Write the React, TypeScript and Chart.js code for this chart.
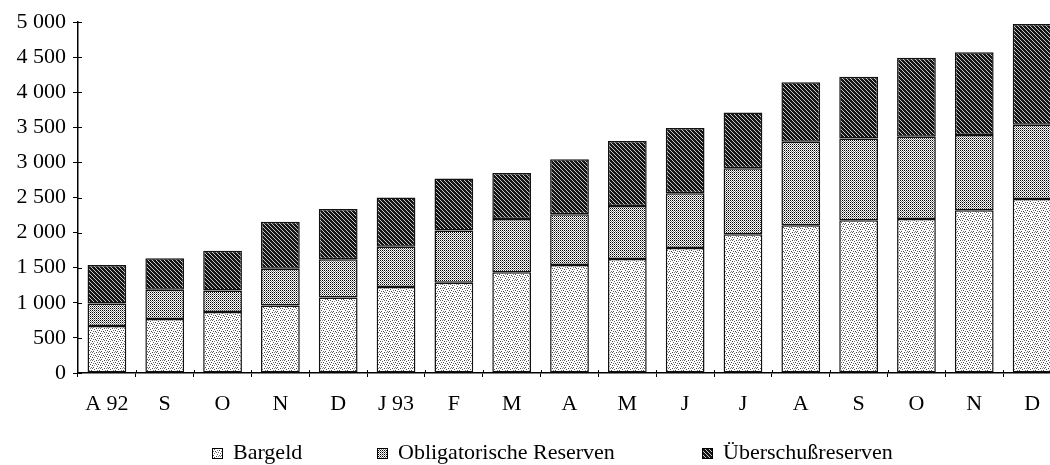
import React, { useEffect, useRef } from "react";
import { Chart, registerables } from "chart.js";

Chart.register(...registerables);

const categories = ["A 92", "S", "O", "N", "D", "J 93", "F", "M", "A", "M", "J", "J", "A", "S", "O", "N", "D"];
const bargeld = [670, 770, 870, 960, 1075, 1225, 1285, 1435, 1540, 1625, 1780, 1975, 2105, 2175, 2195, 2320, 2480];
const obligatorisch = [320, 415, 305, 525, 545, 575, 745, 760, 720, 755, 780, 940, 1190, 1165, 1170, 1070, 1055];
const ueberschuss = [550, 450, 565, 670, 715, 700, 740, 655, 785, 925, 930, 795, 845, 880, 1125, 1180, 1435];
const yTickLabels = ["0", "500", "1 000", "1 500", "2 000", "2 500", "3 000", "3 500", "4 000", "4 500", "5 000"];
const seriesNames = ["Bargeld", "Obligatorische Reserven", "Überschußreserven"];

const FONT = '"Liberation Serif", "Times New Roman", serif';

function makePattern(size: number, bg: string, dots: [number, number, string][]): CanvasPattern | string {
  const c = document.createElement("canvas");
  c.width = size;
  c.height = size;
  const g = c.getContext("2d");
  if (!g) return bg;
  g.fillStyle = bg;
  g.fillRect(0, 0, size, size);
  dots.forEach(([x, y, col]) => {
    g.fillStyle = col;
    g.fillRect(x, y, 1, 1);
  });
  const p = g.createPattern(c, "repeat");
  return p || bg;
}

export default function App() {
  const ref = useRef<HTMLCanvasElement | null>(null);

  useEffect(() => {
    if (!ref.current) return;
    const light = makePattern(8, "#ffffff", [
      [0, 0, "#444"], [2, 0, "#888"], [4, 0, "#666"], [6, 1, "#555"], [1, 2, "#777"], [3, 2, "#444"],
      [5, 3, "#666"], [7, 3, "#444"], [0, 4, "#666"], [2, 4, "#555"], [4, 5, "#444"], [6, 5, "#888"],
      [1, 6, "#555"], [3, 7, "#777"], [5, 7, "#555"],
    ]);
    const medium = makePattern(2, "#ffffff", [[0, 0, "#000"], [1, 1, "#808080"]]);
    const dark = makePattern(4, "#151515", [[0, 0, "#c8c8c8"], [1, 1, "#c8c8c8"], [2, 2, "#c8c8c8"], [3, 3, "#c8c8c8"]]);
    const fills = [light, medium, dark];
    const legendX = [212, 377, 702];

    const legendPlugin = {
      id: "customLegend",
      afterDraw(chart: any) {
        const ctx = chart.ctx as CanvasRenderingContext2D;
        ctx.save();
        ctx.font = `22px ${FONT}`;
        ctx.textBaseline = "middle";
        const y = 453;
        const box = 11;
        seriesNames.forEach((name, i) => {
          const x = legendX[i];
          ctx.fillStyle = fills[i] as any;
          ctx.fillRect(x, 448, box, box);
          ctx.strokeStyle = "#000";
          ctx.lineWidth = 1;
          ctx.strokeRect(x + 0.5, 448.5, box - 1, box - 1);
          ctx.fillStyle = "#000";
          ctx.fillText(name, x + 21, y);
        });
        ctx.restore();
      },
    };

    const innerTicks = {
      id: "innerTicks",
      afterDraw(chart: any) {
        const ctx = chart.ctx as CanvasRenderingContext2D;
        const ys = chart.scales.y;
        const area = chart.chartArea;
        ctx.save();
        ctx.strokeStyle = "#000";
        ctx.lineWidth = 1;
        ctx.beginPath();
        ys.ticks.forEach((t: any) => {
          const py = Math.round(ys.getPixelForValue(t.value)) + 0.5;
          ctx.moveTo(area.left, py);
          ctx.lineTo(area.left + 4, py);
        });
        const n = categories.length;
        const w = (area.right - area.left) / n;
        for (let i = 1; i < n; i++) {
          const px = Math.round(area.left + i * w) + 0.5;
          ctx.moveTo(px, area.bottom);
          ctx.lineTo(px, area.bottom - 3);
        }
        ctx.stroke();
        ctx.restore();
      },
    };

    const makeDs = (label: string, data: number[], fill: any) => ({
      label,
      data,
      backgroundColor: fill,
      borderColor: "#111111",
      borderWidth: 1.5,
      borderSkipped: false,
      categoryPercentage: 1,
      barPercentage: 0.67,
    });

    const chart = new Chart(ref.current, {
      type: "bar",
      data: {
        labels: categories,
        datasets: [
          makeDs(seriesNames[0], bargeld, light),
          makeDs(seriesNames[1], obligatorisch, medium),
          makeDs(seriesNames[2], ueberschuss, dark),
        ],
      },
      options: {
        animation: false,
        responsive: false,
        maintainAspectRatio: false,
        layout: { padding: { left: 0, right: 9, top: 22, bottom: 42 } },
        plugins: { legend: { display: false }, tooltip: { enabled: false } },
        scales: {
          x: {
            stacked: true,
            afterFit: (s: any) => {
              s.height = 50;
            },
            border: { color: "#000", width: 1.5 },
            grid: { drawOnChartArea: false, color: "#000", tickLength: 4, offset: true },
            ticks: { color: "#000", font: { family: FONT, size: 22 }, padding: 14, maxRotation: 0, autoSkip: false },
          },
          y: {
            stacked: true,
            min: 0,
            max: 5000,
            afterFit: (s: any) => {
              s.width = 78;
            },
            border: { color: "#000", width: 1.5 },
            grid: { drawOnChartArea: false, color: "#000", tickLength: 5 },
            ticks: {
              stepSize: 500,
              color: "#000",
              font: { family: FONT, size: 22 },
              padding: 7,
              callback: (_v: any, i: number) => yTickLabels[i],
            },
          },
        },
      },
      plugins: [legendPlugin, innerTicks],
    });
    return () => chart.destroy();
  }, []);

  return (
    <div style={{ position: "fixed", left: 0, top: 0, width: 1050, height: 465, overflow: "hidden", background: "#fff" }}>
      <canvas ref={ref} width={1070} height={465} style={{ display: "block" }} />
    </div>
  );
}
